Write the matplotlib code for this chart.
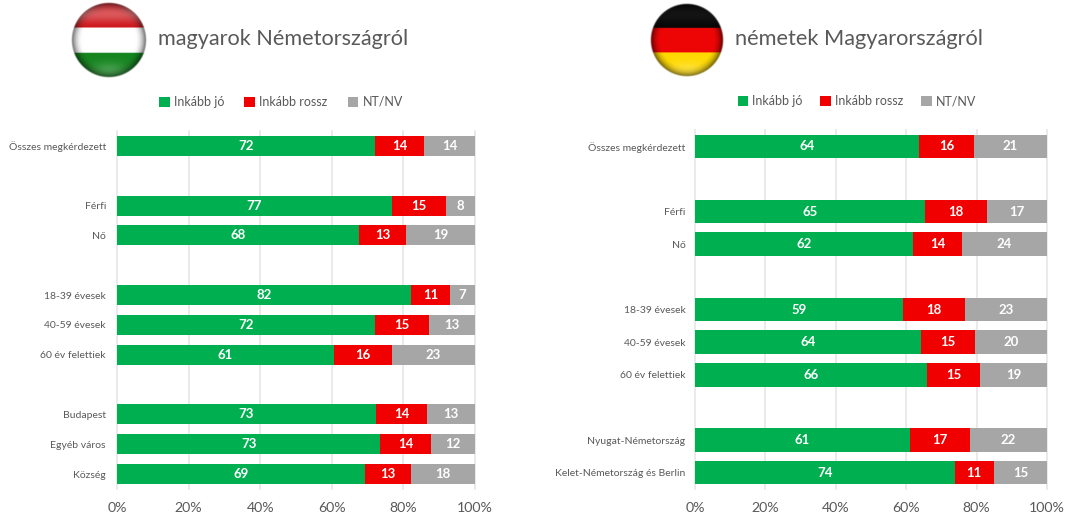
import numpy as np
import matplotlib
matplotlib.use("Agg")
import matplotlib.pyplot as plt

plt.rcParams['font.family'] = ['Lato', 'DejaVu Sans']

W, H = 1068, 517
GREEN, RED, GREY = '#00B050', '#F00000', '#A6A6A6'
TEXT = '#595959'

series_names = ['Inkább jó', 'Inkább rossz', 'NT/NV']
pct_ticks = [0, 20, 40, 60, 80, 100]

# magyarok Németországról
hu_title = 'magyarok Németországról'
hu_cats = ['Összes megkérdezett', '', 'Férfi', 'Nő', '', '18-39 évesek', '40-59 évesek',
           '60 év felettiek', '', 'Budapest', 'Egyéb város', 'Község']
hu_good = [72.1, 0, 76.8, 67.6, 0, 82.1, 72.1, 60.6, 0, 72.3, 73.5, 69.4]
hu_bad = [13.7, 0, 15.1, 13.1, 0, 10.9, 15.1, 16.2, 0, 14.3, 14.2, 12.7]
hu_na = [14.2, 0, 8.1, 19.3, 0, 7.0, 12.8, 23.2, 0, 13.4, 12.3, 17.9]
hu_good_lab = [72, None, 77, 68, None, 82, 72, 61, None, 73, 73, 69]
hu_bad_lab = [14, None, 15, 13, None, 11, 15, 16, None, 14, 14, 13]
hu_na_lab = [14, None, 8, 19, None, 7, 13, 23, None, 13, 12, 18]

# németek Magyarországról
de_title = 'németek Magyarországról'
de_cats = ['Összes megkérdezett', '', 'Férfi', 'Nő', '', '18-39 évesek', '40-59 évesek',
           '60 év felettiek', '', 'Nyugat-Németország', 'Kelet-Németország és Berlin']
de_good = [63.6, 0, 65.3, 62.0, 0, 59.0, 64.2, 65.9, 0, 61.0, 73.8]
de_bad = [15.6, 0, 17.7, 13.9, 0, 17.7, 15.3, 15.1, 0, 17.0, 11.1]
de_na = [20.8, 0, 17.0, 24.1, 0, 23.3, 20.5, 19.0, 0, 22.0, 15.1]
de_good_lab = [64, None, 65, 62, None, 59, 64, 66, None, 61, 74]
de_bad_lab = [16, None, 18, 14, None, 18, 15, 15, None, 17, 11]
de_na_lab = [21, None, 17, 24, None, 23, 20, 19, None, 22, 15]

hu_stripes = [(0.80, 0.06, 0.08), (1.0, 1.0, 1.0), (0.08, 0.52, 0.12)]
de_stripes = [(0.02, 0.02, 0.02), (0.93, 0.02, 0.02), (1.0, 0.85, 0.0)]


def px_axes(fig, left, top, right, bottom):
    return fig.add_axes([left / W, 1 - bottom / H, (right - left) / W, (bottom - top) / H])


def draw_flag(fig, cx, cy, r, stripes, top_glow):
    # round button look: stripes, darker rim, light glow at top and bottom
    ax = px_axes(fig, cx - r - 2, cy - r - 2, cx + r + 2, cy + r + 2)
    n = 300
    yy, xx = np.mgrid[-1.06:1.06:n * 1j, -1.06:1.06:n * 1j]
    rr = np.sqrt(xx ** 2 + yy ** 2)
    img = np.zeros((n, n, 4))
    band = np.digitize(yy, [-0.34, 0.35])
    img[..., :3] = np.array(stripes)[band]
    shade = 1 - 0.55 * np.clip((rr - 0.72) / 0.28, 0, 1) ** 2
    img[..., :3] *= shade[..., None]
    glow_t = top_glow * np.exp(-((yy + 0.72) / 0.25) ** 2) * (rr < 1)
    glow_b = 0.20 * np.exp(-((yy - 0.82) / 0.22) ** 2) * np.exp(-(xx / 0.5) ** 2)
    glow = (glow_t + glow_b)[..., None]
    img[..., :3] = img[..., :3] * (1 - glow) + glow
    img[..., 3] = np.clip((1.03 - rr) / 0.04, 0, 1)
    ax.imshow(img, interpolation='bilinear')
    ax.axis('off')


def draw_panel(fig, box, cats, good, bad, na, good_lab, bad_lab, na_lab, height, leg_center, pad, col_space):
    ax = px_axes(fig, *box)
    y = np.arange(len(cats))
    good = np.array(good)
    bad = np.array(bad)
    na = np.array(na)
    handles = []
    for vals, start, labs, col, name in [(good, 0, good_lab, GREEN, series_names[0]),
                                         (bad, good, bad_lab, RED, series_names[1]),
                                         (na, good + bad, na_lab, GREY, series_names[2])]:
        bars = ax.barh(y, vals, left=start, height=height, color=col, label=name, zorder=3)
        handles.append(bars)
        for rect, lab in zip(bars, labs):
            if lab is None:
                continue
            ax.text(rect.get_x() + rect.get_width() / 2, rect.get_y() + rect.get_height() / 2, str(lab),
                    ha='center', va='center', color='white', fontsize=9.5, fontweight='bold', zorder=4)
    ax.set_xlim(0, 100)
    ax.set_ylim(len(cats) - 0.5, -0.5)
    ax.set_xticks(pct_ticks)
    ax.set_xticklabels([f'{t}%' for t in pct_ticks], fontsize=10.2, color=TEXT)
    ax.set_yticks(y)
    ax.set_yticklabels(cats, fontsize=7.5, color=TEXT)
    ax.tick_params(axis='both', length=0)
    ax.tick_params(axis='y', pad=pad)
    ax.tick_params(axis='x', pad=9)
    ax.grid(axis='x', color='#E6E6E6', lw=1.2, zorder=0)
    ax.set_axisbelow(True)
    for s in ax.spines.values():
        s.set_visible(False)
    for line in ax.get_xgridlines():
        line.set_clip_on(False)
    fig.legend(handles=handles, ncol=3, loc='center',
               bbox_to_anchor=(leg_center[0] / W, 1 - leg_center[1] / H),
               frameon=False, fontsize=9, labelcolor=TEXT,
               handlelength=0.85, handleheight=0.85, handletextpad=0.35, columnspacing=col_space)
    return ax


fig = plt.figure(figsize=(W / 100, H / 100), dpi=100, facecolor='white')

draw_panel(fig, (117, 131, 475, 489), hu_cats, hu_good, hu_bad, hu_na,
           hu_good_lab, hu_bad_lab, hu_na_lab, 0.67, (281, 102), 8, 1.6)
draw_panel(fig, (695, 130, 1047, 489), de_cats, de_good, de_bad, de_na,
           de_good_lab, de_bad_lab, de_na_lab, 0.72, (857, 101), 7, 1.4)

draw_flag(fig, 109, 40, 37, hu_stripes, 0.30)
draw_flag(fig, 687, 40, 36, de_stripes, 0.06)

fig.text(158 / W, 1 - 39 / H, hu_title, fontsize=15.6, color=TEXT, va='center', ha='left')
fig.text(735 / W, 1 - 39 / H, de_title, fontsize=15.7, color=TEXT, va='center', ha='left')

fig.savefig('out.png', dpi=100)
